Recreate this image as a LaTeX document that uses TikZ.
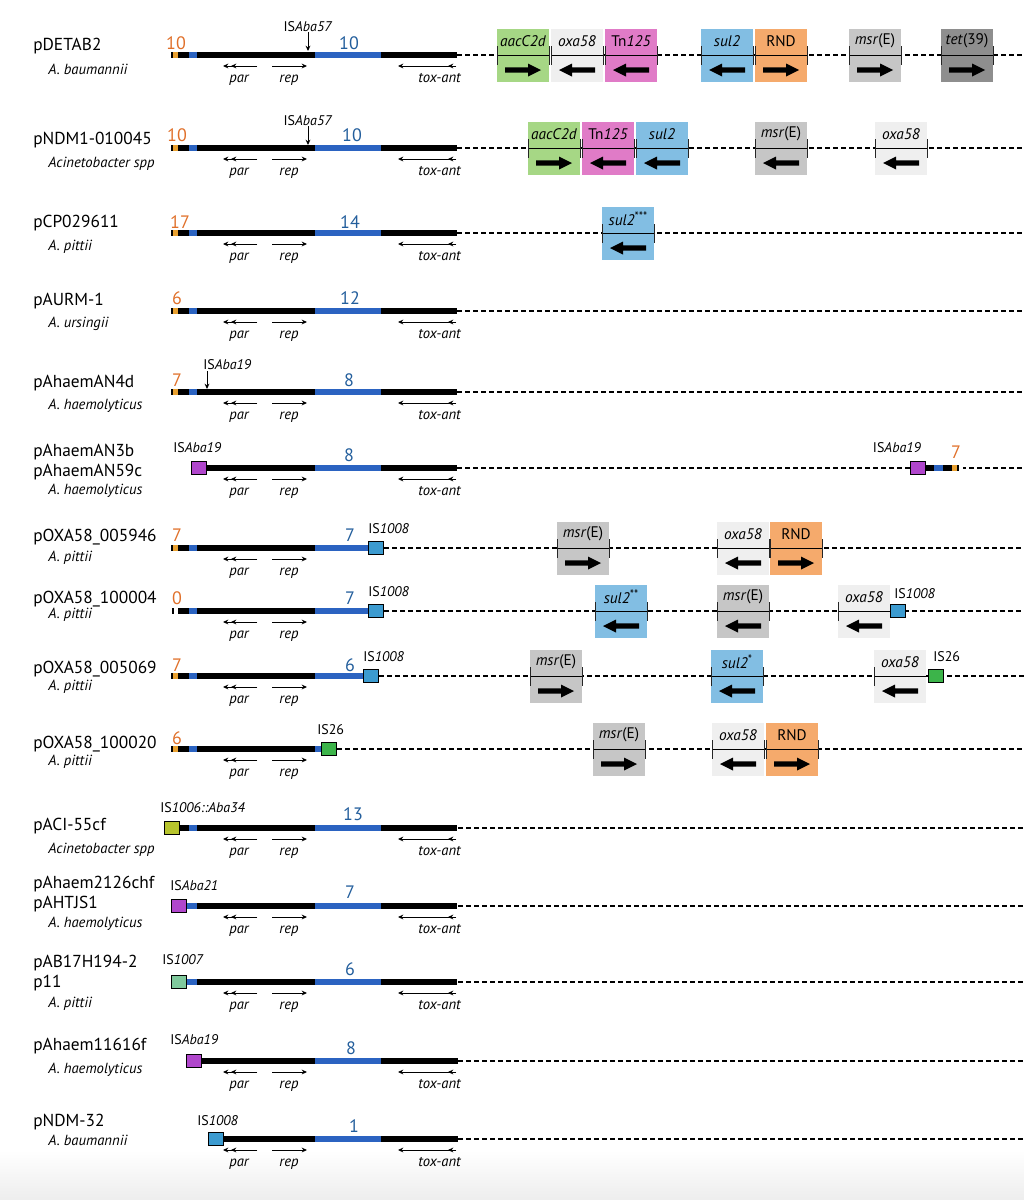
\documentclass[tikz,border=0pt]{standalone}
\usepackage{fontspec}
\setmainfont{PT Sans}
\usetikzlibrary{arrows.meta}
\definecolor{cOrNum}{HTML}{E0702A}
\definecolor{cBlNum}{HTML}{235E9C}
\definecolor{cBar}{HTML}{2B63C1}
\definecolor{cStub}{HTML}{E8A030}
\definecolor{gGreen}{HTML}{A6D785}
\definecolor{gLight}{HTML}{EFEFEF}
\definecolor{gPink}{HTML}{E07BC7}
\definecolor{gBlue}{HTML}{82BEE3}
\definecolor{gOrange}{HTML}{F5AA6C}
\definecolor{gGray}{HTML}{C6C6C6}
\definecolor{gDark}{HTML}{8E8E8E}
\definecolor{sqPurple}{HTML}{B046CC}
\definecolor{sqBlue}{HTML}{3C9BD0}
\definecolor{sqGreen}{HTML}{3CB44A}
\definecolor{sqOlive}{HTML}{B7C42D}
\definecolor{sqMint}{HTML}{7FC99C}
\tikzset{
 pname/.style={anchor=base west, font=\fontsize{13}{15}\selectfont, inner sep=0},
 species/.style={anchor=base west, font=\fontsize{11}{13}\selectfont\itshape, inner sep=0},
 onum/.style={font=\fontsize{13.5}{15}\selectfont, text=cOrNum, inner sep=0},
 bnum/.style={font=\fontsize{13.5}{15}\selectfont, text=cBlNum, inner sep=0},
 islab/.style={font=\fontsize{10.5}{12}\selectfont, inner sep=0},
 genelab/.style={font=\fontsize{11}{13}\selectfont\itshape, inner sep=0},
 boxlab/.style={font=\fontsize{11.5}{13}\selectfont, inner sep=0},
 thinarrow/.style={line width=0.7pt, -{Stealth[length=4pt,width=3.6pt]}},
 dashline/.style={line width=0.9pt, dash pattern=on 3.6pt off 2.4pt},
 tickline/.style={line width=0.75pt, black!85},
 isq/.style={draw, line width=1pt, minimum width=11pt, minimum height=9.5pt, inner sep=0, outer sep=0},
}
\newcommand{\stars}[1]{\raisebox{0.32em}{\fontsize{9}{9}\selectfont #1}}
% x1 x2 y colour
\newcommand{\seg}[4]{\fill[#4] (#1,{#3-3}) rectangle (#2,{#3+3});}
\newcommand{\stdstub}[1]{\seg{171}{173}{#1}{black}\seg{173}{178}{#1}{cStub}\seg{178}{189}{#1}{black}\seg{189}{197}{#1}{cBar}}
\newcommand{\mainbar}[1]{\seg{197}{315}{#1}{black}\seg{315}{381}{#1}{cBar}\seg{381}{457}{#1}{black}}
\newcommand{\pargene}[2]{%
 \draw[thinarrow] (257,{#1+11}) -- (231,{#1+11});
 \draw[thinarrow] (257,{#1+11}) -- (223,{#1+11});
 \draw[thinarrow] (272,{#1+11}) -- (307,{#1+11});
 \node[genelab, anchor=base] (#2par) at (239,{#1+27}) {par};
 \node[genelab, anchor=base] (#2rep) at (289,{#1+27}) {rep};}
\newcommand{\toxgene}[2]{%
 \draw[thinarrow] (456,{#1+11}) -- (398,{#1+11});
 \draw[thinarrow] (456,{#1+11}) -- (448,{#1+11});
 \node[genelab, anchor=base east] (#2tox) at (461,{#1+27}) {tox-ant};}
% name, left x, line y, colour, label, dir, right tick
\newcommand{\gbox}[7]{%
 \fill[#4] (#2,{#3-26}) rectangle ({#2+52},{#3+27});
 \draw[line width=0.75pt] (#2,#3) -- ({#2+52},#3);
 \draw[tickline] (#2,{#3-9}) -- (#2,{#3+10});
 \ifnum#7=1 \draw[tickline] ({#2+52},{#3-9}) -- ({#2+52},{#3+10});\fi
 \node[boxlab] (#1) at ({#2+26},{#3-14}) {#5};
 \fill ({#2+26-18*(#6)},{#3+15-2.7}) -- ({#2+26+5*(#6)},{#3+15-2.7}) -- ({#2+26+5*(#6)},{#3+15-6.5}) -- ({#2+26+18*(#6)},{#3+15}) -- ({#2+26+5*(#6)},{#3+15+6.5}) -- ({#2+26+5*(#6)},{#3+15+2.7}) -- ({#2+26-18*(#6)},{#3+15+2.7}) -- cycle;}
% name, left x, y, colour
\newcommand{\issq}[4]{\node[isq, fill=#4] (#1) at ({#2+8},#3) {};}
\begin{document}
\begin{tikzpicture}[x=0.75pt,y=-0.75pt]
\useasboundingbox (0,0) rectangle (1024,1200);
\shade[top color=white, bottom color=black!7] (0,1150) rectangle (1024,1200);

% ---------- Row 1
\draw[dashline] (457,55) -- (1024,55);
\stdstub{55}\mainbar{55}
\node[onum] (r1o) at (176,43) {10};
\node[bnum] (r1b) at (349,43) {10};
\node[islab] (r1is) at (308,27) {IS\textit{Aba57}};
\draw[thinarrow] (r1is.south) -- (308,51);
\pargene{55}{r1}\toxgene{55}{r1}
\gbox{r1g1}{497}{55}{gGreen}{\textit{aacC2d}}{1}{1}
\gbox{r1g2}{551}{55}{gLight}{\textit{oxa58}}{-1}{1}
\gbox{r1g3}{605}{55}{gPink}{Tn\textit{125}}{-1}{1}
\gbox{r1g4}{701}{55}{gBlue}{\textit{sul2}}{-1}{1}
\gbox{r1g5}{755}{55}{gOrange}{RND}{1}{1}
\gbox{r1g6}{849}{55}{gGray}{\textit{msr}(E)}{1}{1}
\gbox{r1g7}{941}{55}{gDark}{\textit{tet}(39)}{1}{1}
\node[pname] (r1n) at (33,50) {pDETAB2};
\node[species] (r1s) at (48,74) {A. baumannii};

% ---------- Row 2
\draw[dashline] (457,148) -- (1024,148);
\stdstub{148}\mainbar{148}
\node[onum] (r2o) at (177,135) {10};
\node[bnum] (r2b) at (352,135) {10};
\node[islab] (r2is) at (308,121) {IS\textit{Aba57}};
\draw[thinarrow] (r2is.south) -- (308,145);
\pargene{148}{r2}\toxgene{148}{r2}
\gbox{r2g1}{528}{148}{gGreen}{\textit{aacC2d}}{1}{1}
\gbox{r2g2}{582}{148}{gPink}{Tn\textit{125}}{-1}{1}
\gbox{r2g3}{636}{148}{gBlue}{\textit{sul2}}{-1}{1}
\gbox{r2g4}{755}{148}{gGray}{\textit{msr}(E)}{-1}{1}
\gbox{r2g5}{875}{148}{gLight}{\textit{oxa58}}{-1}{1}
\node[pname] (r2n) at (33,144) {pNDM1-010045};
\node[species] (r2s) at (48,167) {Acinetobacter spp};

% ---------- Row 3
\draw[dashline] (457,233) -- (1024,233);
\stdstub{233}\mainbar{233}
\node[onum] (r3o) at (180,222) {17};
\node[bnum] (r3b) at (350,222) {14};
\pargene{233}{r3}\toxgene{233}{r3}
\gbox{r3g1}{602}{233}{gBlue}{\textit{sul2}\stars{***}}{-1}{1}
\node[pname] (r3n) at (33,227) {pCP029611};
\node[species] (r3s) at (48,250) {A. pittii};

% ---------- Row 4
\draw[dashline] (457,311) -- (1024,311);
\stdstub{311}\mainbar{311}
\node[onum] (r4o) at (177,298) {6};
\node[bnum] (r4b) at (350,298) {12};
\pargene{311}{r4}\toxgene{311}{r4}
\node[pname] (r4n) at (33,305) {pAURM-1};
\node[species] (r4s) at (48,327) {A. ursingii};

% ---------- Row 5
\draw[dashline] (457,392) -- (1024,392);
\stdstub{392}\mainbar{392}
\node[onum] (r5o) at (177,380) {7};
\node[bnum] (r5b) at (349,380) {8};
\node[islab, anchor=west] (r5is) at (203,365) {IS\textit{Aba19}};
\coordinate (r5tip) at (207,389);
\draw[thinarrow] (207,371) -- (r5tip);
\pargene{392}{r5}\toxgene{392}{r5}
\node[pname] (r5n) at (33,387) {pAhaemAN4d};
\node[species] (r5s) at (48,409) {A. haemolyticus};

% ---------- Row 6
\draw[dashline] (457,468) -- (1024,468);
\seg{207}{315}{468}{black}\seg{315}{381}{468}{cBar}\seg{381}{457}{468}{black}
\issq{r6sqL}{191}{468}{sqPurple}
\node[islab, anchor=west] (r6isL) at (173,448) {IS\textit{Aba19}};
\node[bnum] (r6b) at (349,455) {8};
\pargene{468}{r6}\toxgene{468}{r6}
\fill[white] (959,462) rectangle (963,474);
\seg{926}{934}{468}{black}\seg{934}{943}{468}{cBar}\seg{943}{952}{468}{black}\seg{952}{957}{468}{cStub}\seg{957}{959}{468}{black}
\issq{r6sqR}{910}{468}{sqPurple}
\node[islab] (r6isR) at (897,448) {IS\textit{Aba19}};
\node[onum] (r6o) at (956,452) {7};
\node[pname] (r6n1) at (33,456) {pAhaemAN3b};
\node[pname] (r6n2) at (33,476) {pAhaemAN59c};
\node[species] (r6s) at (48,494) {A. haemolyticus};

% ---------- Row 7
\draw[dashline] (384,548) -- (1024,548);
\stdstub{548}\seg{197}{315}{548}{black}\seg{315}{369}{548}{cBar}
\issq{r7sq}{368}{548}{sqBlue}
\node[onum] (r7o) at (177,535) {7};
\node[bnum] (r7b) at (350,535) {7};
\node[islab, anchor=west] (r7is) at (368,529) {IS\textit{1008}};
\pargene{548}{r7}
\gbox{r7g1}{557}{548}{gGray}{\textit{msr}(E)}{1}{1}
\gbox{r7g2}{717}{548}{gLight}{\textit{oxa58}}{-1}{1}
\gbox{r7g3}{770}{548}{gOrange}{RND}{1}{1}
\node[pname] (r7n) at (33,541) {pOXA58\_005946};
\node[species] (r7s) at (48,561) {A. pittii};

% ---------- Row 8
\draw[dashline] (384,611) -- (1024,611);
\seg{172}{174}{611}{black}\seg{178}{189}{611}{black}\seg{189}{197}{611}{cBar}\seg{197}{315}{611}{black}\seg{315}{369}{611}{cBar}
\issq{r8sq}{368}{611}{sqBlue}
\node[onum] (r8o) at (177,598) {0};
\node[bnum] (r8b) at (350,598) {7};
\node[islab, anchor=west] (r8is) at (368,592) {IS\textit{1008}};
\pargene{611}{r8}
\gbox{r8g1}{595}{611}{gBlue}{\textit{sul2}\stars{**}}{-1}{1}
\gbox{r8g2}{717}{611}{gGray}{\textit{msr}(E)}{-1}{1}
\gbox{r8g3}{838}{611}{gLight}{\textit{oxa58}}{-1}{0}
\issq{r8sqR}{890}{611}{sqBlue}
\node[islab, anchor=west] (r8isR) at (894,594) {IS\textit{1008}};
\node[pname] (r8n) at (33,603) {pOXA58\_100004};
\node[species] (r8s) at (48,618) {A. pittii};

% ---------- Row 9
\draw[dashline] (379,676) -- (1024,676);
\stdstub{676}\seg{197}{315}{676}{black}\seg{315}{364}{676}{cBar}
\issq{r9sq}{363}{676}{sqBlue}
\node[onum] (r9o) at (177,665) {7};
\node[bnum] (r9b) at (350,665) {6};
\node[islab, anchor=west] (r9is) at (363,657) {IS\textit{1008}};
\pargene{676}{r9}
\gbox{r9g1}{530}{676}{gGray}{\textit{msr}(E)}{1}{1}
\gbox{r9g2}{711}{676}{gBlue}{\textit{sul2}\stars{*}}{-1}{1}
\gbox{r9g3}{874}{676}{gLight}{\textit{oxa58}}{-1}{0}
\draw[line width=0.75pt] (926,676) -- (929,676);
\issq{r9sqR}{928}{676}{sqGreen}
\node[islab, anchor=west] (r9isR) at (933,657) {IS26};
\node[pname] (r9n) at (33,673) {pOXA58\_005069};
\node[species] (r9s) at (48,690) {A. pittii};

% ---------- Row 10
\draw[dashline] (337,749) -- (1024,749);
\stdstub{749}\seg{197}{315}{749}{black}\seg{315}{322}{749}{cBar}
\issq{r10sq}{321}{749}{sqGreen}
\node[onum] (r10o) at (177,738) {6};
\node[islab, anchor=west] (r10is) at (317,730) {IS26};
\pargene{749}{r10}
\gbox{r10g1}{593}{749}{gGray}{\textit{msr}(E)}{1}{1}
\gbox{r10g2}{712}{749}{gLight}{\textit{oxa58}}{-1}{1}
\gbox{r10g3}{766}{749}{gOrange}{RND}{1}{1}
\node[pname] (r10n) at (33,748) {pOXA58\_100020};
\node[species] (r10s) at (48,765) {A. pittii};

% ---------- Row 11
\draw[dashline] (458,828) -- (1024,828);
\seg{180}{189}{828}{black}\seg{189}{197}{828}{cBar}\mainbar{828}
\issq{r11sq}{164}{828}{sqOlive}
\node[islab, anchor=west] (r11is) at (160,808) {IS\textit{1006::Aba34}};
\node[bnum] (r11b) at (353,814) {13};
\pargene{828}{r11}\toxgene{828}{r11}
\node[pname] (r11n) at (33,830) {pACI-55cf};
\node[species] (r11s) at (48,853) {Acinetobacter spp};

% ---------- Row 12
\draw[dashline] (458,906) -- (1024,906);
\seg{187}{197}{906}{cBar}\mainbar{906}
\issq{r12sq}{171}{906}{sqPurple}
\node[islab, anchor=west] (r12is) at (170,886) {IS\textit{Aba21}};
\node[bnum] (r12b) at (350,892) {7};
\pargene{906}{r12}\toxgene{906}{r12}
\node[pname] (r12n1) at (33,888) {pAhaem2126chf};
\node[pname] (r12n2) at (33,908) {pAHTJS1};
\node[species] (r12s) at (48,927) {A. haemolyticus};

% ---------- Row 13
\draw[dashline] (458,982) -- (1024,982);
\seg{187}{197}{982}{cBar}\mainbar{982}
\issq{r13sq}{171}{982}{sqMint}
\node[islab, anchor=west] (r13is) at (162,960) {IS\textit{1007}};
\node[bnum] (r13b) at (350,969) {6};
\pargene{982}{r13}\toxgene{982}{r13}
\node[pname] (r13n1) at (33,967) {pAB17H194-2};
\node[pname] (r13n2) at (33,987) {p11};
\node[species] (r13s) at (48,1007) {A. pittii};

% ---------- Row 14
\draw[dashline] (458,1061) -- (1024,1061);
\seg{202}{315}{1061}{black}\seg{315}{381}{1061}{cBar}\seg{381}{458}{1061}{black}
\issq{r14sq}{186}{1061}{sqPurple}
\node[islab, anchor=west] (r14is) at (170,1040) {IS\textit{Aba19}};
\node[bnum] (r14b) at (351,1048) {8};
\pargene{1061}{r14}\toxgene{1061}{r14}
\node[pname] (r14n) at (33,1050) {pAhaem11616f};
\node[species] (r14s) at (48,1073) {A. haemolyticus};

% ---------- Row 15
\draw[dashline] (458,1139) -- (1024,1139);
\seg{223}{315}{1139}{black}\seg{315}{381}{1139}{cBar}\seg{381}{458}{1139}{black}
\issq{r15sq}{208}{1139}{sqBlue}
\node[islab, anchor=west] (r15is) at (197,1121) {IS\textit{1008}};
\node[bnum] (r15b) at (354,1126) {1};
\pargene{1139}{r15}\toxgene{1139}{r15}
\node[pname] (r15n) at (33,1126) {pNDM-32};
\node[species] (r15s) at (48,1145) {A. baumannii};
\end{tikzpicture}
\end{document}
